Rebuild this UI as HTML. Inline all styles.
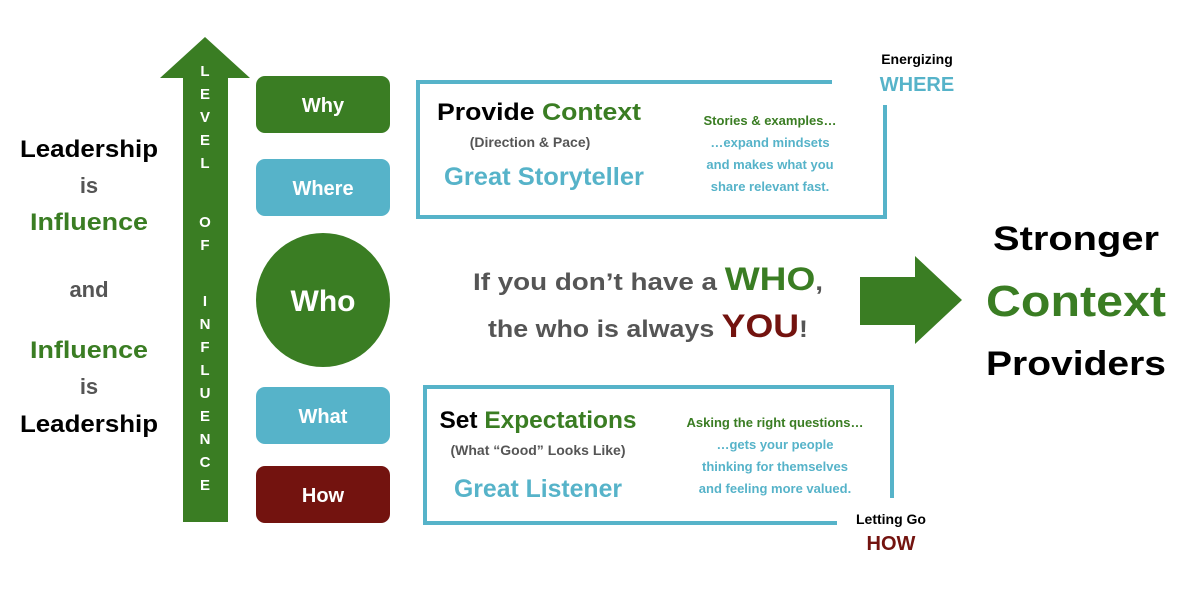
<!DOCTYPE html>
<html><head><meta charset="utf-8"><style>html,body{margin:0;padding:0;background:#fff}svg{display:block}text{font-family:"Liberation Sans",sans-serif;font-weight:bold}</style></head><body>
<svg width="1200" height="600" viewBox="0 0 1200 600">
<g text-anchor="middle">
<text x="89" y="157" font-size="24" fill="#000" textLength="138" lengthAdjust="spacingAndGlyphs">Leadership</text>
<text x="89" y="193" font-size="22" fill="#555">is</text>
<text x="89" y="230" font-size="24" fill="#3a7d23" textLength="118" lengthAdjust="spacingAndGlyphs">Influence</text>
<text x="89" y="297" font-size="22" fill="#555">and</text>
<text x="89" y="358" font-size="24" fill="#3a7d23" textLength="118" lengthAdjust="spacingAndGlyphs">Influence</text>
<text x="89" y="394" font-size="22" fill="#555">is</text>
<text x="89" y="432" font-size="24" fill="#000" textLength="138" lengthAdjust="spacingAndGlyphs">Leadership</text>
</g>
<polygon points="183,522 228,522 228,78 250,78 205,37 160,78 183,78" fill="#3a7d23"/>
<g text-anchor="middle" font-size="15" fill="#fff">
<text x="205" y="76">L</text><text x="205" y="99">E</text><text x="205" y="122">V</text><text x="205" y="145">E</text><text x="205" y="168">L</text>
<text x="205" y="227">O</text><text x="205" y="250">F</text>
<text x="205" y="306">I</text><text x="205" y="329">N</text><text x="205" y="352">F</text><text x="205" y="375">L</text><text x="205" y="398">U</text><text x="205" y="421">E</text><text x="205" y="444">N</text><text x="205" y="467">C</text><text x="205" y="490">E</text>
</g>
<rect x="256" y="76" width="134" height="57" rx="9" fill="#3a7d23"/>
<rect x="256" y="159" width="134" height="57" rx="9" fill="#56b3c9"/>
<circle cx="323" cy="300" r="67" fill="#3a7d23"/>
<rect x="256" y="387" width="134" height="57" rx="9" fill="#56b3c9"/>
<rect x="256" y="466" width="134" height="57" rx="9" fill="#73130f"/>
<g text-anchor="middle" fill="#fff">
<text x="323" y="112" font-size="20">Why</text>
<text x="323" y="195" font-size="20">Where</text>
<text x="323" y="311" font-size="30">Who</text>
<text x="323" y="423" font-size="20">What</text>
<text x="323" y="502" font-size="20">How</text>
</g>
<polyline points="832,82 418,82 418,217 885,217 885,105" fill="none" stroke="#56b3c9" stroke-width="4"/>
<polyline points="837,523 425,523 425,387 892,387 892,498" fill="none" stroke="#56b3c9" stroke-width="4"/>
<g text-anchor="middle">
<text x="917" y="64" font-size="14" fill="#000">Energizing</text>
<text x="917" y="91" font-size="20" fill="#56b3c9">WHERE</text>
<text x="539" y="120" font-size="24" textLength="204" lengthAdjust="spacingAndGlyphs"><tspan fill="#000">Provide </tspan><tspan fill="#3a7d23">Context</tspan></text>
<text x="530" y="147" font-size="14" fill="#555">(Direction &amp; Pace)</text>
<text x="544" y="185" font-size="25" fill="#56b3c9" textLength="200" lengthAdjust="spacingAndGlyphs">Great Storyteller</text>
<text x="770" y="125" font-size="13" fill="#3a7d23">Stories &amp; examples…</text>
<text x="770" y="147" font-size="13" fill="#56b3c9">…expand mindsets</text>
<text x="770" y="169" font-size="13" fill="#56b3c9">and makes what you</text>
<text x="770" y="191" font-size="13" fill="#56b3c9">share relevant fast.</text>

<text x="538" y="428" font-size="24" textLength="197" lengthAdjust="spacingAndGlyphs"><tspan fill="#000">Set </tspan><tspan fill="#3a7d23">Expectations</tspan></text>
<text x="538" y="455" font-size="14" fill="#555">(What “Good” Looks Like)</text>
<text x="538" y="497" font-size="25" fill="#56b3c9" textLength="168" lengthAdjust="spacingAndGlyphs">Great Listener</text>
<text x="775" y="427" font-size="13" fill="#3a7d23">Asking the right questions…</text>
<text x="775" y="449" font-size="13" fill="#56b3c9">…gets your people</text>
<text x="775" y="471" font-size="13" fill="#56b3c9">thinking for themselves</text>
<text x="775" y="493" font-size="13" fill="#56b3c9">and feeling more valued.</text>
<text x="891" y="524" font-size="14" fill="#000">Letting Go</text>
<text x="891" y="550" font-size="20" fill="#73130f">HOW</text>

<text x="648" y="290" font-size="24" fill="#555" textLength="350" lengthAdjust="spacingAndGlyphs">If you don’t have a <tspan fill="#3a7d23" font-size="32">WHO</tspan>,</text>
<text x="648" y="337" font-size="24" fill="#555" textLength="320" lengthAdjust="spacingAndGlyphs">the who is always <tspan fill="#73130f" font-size="32">YOU</tspan>!</text>

<text x="1076" y="250" font-size="34" fill="#000" textLength="166" lengthAdjust="spacingAndGlyphs">Stronger</text>
<text x="1076" y="316" font-size="44" fill="#3a7d23" textLength="180" lengthAdjust="spacingAndGlyphs">Context</text>
<text x="1076" y="375" font-size="34" fill="#000" textLength="180" lengthAdjust="spacingAndGlyphs">Providers</text>
</g>
<polygon points="860,277 915,277 915,256 962,300 915,344 915,325 860,325" fill="#3a7d23"/>
</svg>
</body></html>
